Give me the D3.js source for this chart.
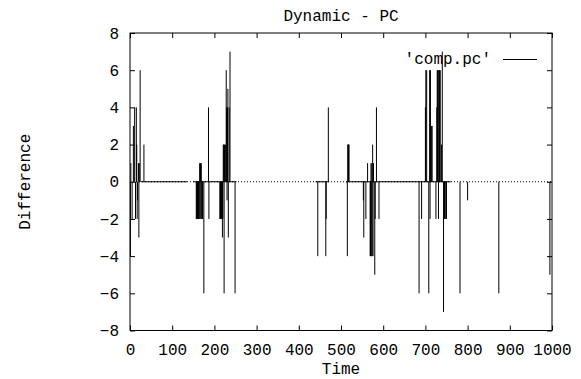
<!DOCTYPE html>
<html>
<head>
<meta charset="utf-8">
<script src="https://cdn.jsdelivr.net/npm/d3@7"></script>
<style>
  body { margin: 0; background: #fff; }
  text { font-family: "Liberation Mono", "DejaVu Sans Mono", monospace; font-size: 16px; fill: #000; }
</style>
</head>
<body>
<svg id="chart" width="581" height="379"></svg>
<script>
// impulses: [time, difference]
const impulses = [
  [1, -4], [2, 1], [5, -2], [8, 3], [11, 4], [13, -2], [15, 4], [16, 2], [17, -2],
  [18, -1], [20, 1], [21, -3], [22, 1], [24, 6], [33, 2],
  [157, -2], [158, -2], [159, -2], [160, -2], [161, -2], [162, -2], [163, -2], [164, -2],
  [165, 1], [166, -2], [167, 1], [168, -2], [169, 1], [170, -2], [171, -2], [172, -2],
  [175, -6], [186, 4], [187, -2],
  [213, -2], [214, -2], [215, -2], [216, -2], [217, -2], [218, -2], [219, -3], [220, -2],
  [221, 2], [222, 2], [223, -6], [224, 2], [226, 2], [228, 6], [229, 4], [230, -1],
  [231, 4], [232, 5], [233, -3], [235, 4], [237, 7], [249, -6],
  [445, -4], [464, -4], [465, -2], [470, 4],
  [515, -4], [516, 2], [517, 2], [518, 2], [519, 2],
  [553, -1], [554, -3], [559, -2], [563, 1], [569, -4], [570, -4], [571, 1], [572, -4],
  [573, 1], [574, -4], [575, 2], [576, -4], [577, 1], [580, -5], [581, -2], [584, 4], [590, -2],
  [685, -6], [691, -2], [700, 4], [701, 6], [703, 6], [708, -6], [710, 6], [711, -2],
  [712, 6], [713, 3], [714, 3], [716, 3], [725, -2], [727, 4], [728, 6], [729, 6],
  [730, 6], [731, -2], [732, 6], [733, 6], [734, 6], [735, 6], [738, 2], [740, 7],
  [743, -7], [745, -2], [746, -2], [747, -2], [750, -2],
  [782, -6], [800, -1], [874, -6], [995, -5]
];

// stretches of time where the series sits at zero (drawn as solid baseline)
const zeroRuns = [[25, 135], [150, 252], [440, 472], [512, 760]];

const xTicks = [0, 100, 200, 300, 400, 500, 600, 700, 800, 900, 1000];
const yTicks = [-8, -6, -4, -2, 0, 2, 4, 6, 8];

const svg = d3.select('#chart');

const x = d3.scaleLinear().domain([0, 1000]).range([130, 552]);
const y = d3.scaleLinear().domain([-8, 8]).range([330.5, 33]);

// dotted zero axis
svg.append('line')
  .attr('x1', x(0)).attr('x2', x(1000))
  .attr('y1', y(0)).attr('y2', y(0))
  .attr('stroke', '#000')
  .attr('stroke-width', 1)
  .attr('stroke-dasharray', '1,2');

svg.append('g')
  .selectAll('line')
  .data(zeroRuns)
  .join('line')
  .attr('x1', d => x(d[0])).attr('x2', d => x(d[1]))
  .attr('y1', y(0)).attr('y2', y(0))
  .attr('stroke', '#000')
  .attr('stroke-width', 1);

// impulses
svg.append('g')
  .selectAll('line')
  .data(impulses)
  .join('line')
  .attr('x1', d => x(d[0])).attr('x2', d => x(d[0]))
  .attr('y1', y(0)).attr('y2', d => y(d[1]))
  .attr('stroke', '#000')
  .attr('stroke-width', 1);

// axes, ticks inward on all sides
const axBottom = svg.append('g')
  .attr('transform', `translate(0,${y(-8)})`)
  .call(d3.axisBottom(x).tickValues(xTicks).tickSize(-5).tickPadding(13).tickFormat(d3.format('d')));
const axLeft = svg.append('g')
  .attr('transform', `translate(${x(0)},0)`)
  .call(d3.axisLeft(y).tickValues(yTicks).tickSize(-5).tickPadding(11).tickFormat(d3.format('d')));
const axTop = svg.append('g')
  .attr('transform', `translate(0,${y(8)})`)
  .call(d3.axisTop(x).tickValues(xTicks).tickSize(-5).tickFormat(''));
const axRight = svg.append('g')
  .attr('transform', `translate(${x(1000)},0)`)
  .call(d3.axisRight(y).tickValues(yTicks).tickSize(-5).tickFormat(''));

[axBottom, axLeft, axTop, axRight].forEach(g => {
  g.select('.domain').remove();
  g.attr('font-size', null).attr('font-family', null);
});

svg.append('rect')
  .attr('x', x(0)).attr('y', y(8))
  .attr('width', x(1000) - x(0)).attr('height', y(-8) - y(8))
  .attr('fill', 'none')
  .attr('stroke', '#000')
  .attr('stroke-width', 1);

// titles
svg.append('text')
  .attr('x', (x(0) + x(1000)) / 2).attr('y', 21)
  .attr('text-anchor', 'middle')
  .text('Dynamic - PC');

svg.append('text')
  .attr('x', (x(0) + x(1000)) / 2).attr('y', 374)
  .attr('text-anchor', 'middle')
  .text('Time');

svg.append('text')
  .attr('transform', `translate(30,${y(0)}) rotate(-90)`)
  .attr('text-anchor', 'middle')
  .text('Difference');

// legend
svg.append('text')
  .attr('x', 491).attr('y', 64)
  .attr('text-anchor', 'end')
  .text("'comp.pc'");
svg.append('line')
  .attr('x1', 503).attr('x2', 537)
  .attr('y1', 59.5).attr('y2', 59.5)
  .attr('stroke', '#000')
  .attr('stroke-width', 1);
</script>
</body>
</html>
